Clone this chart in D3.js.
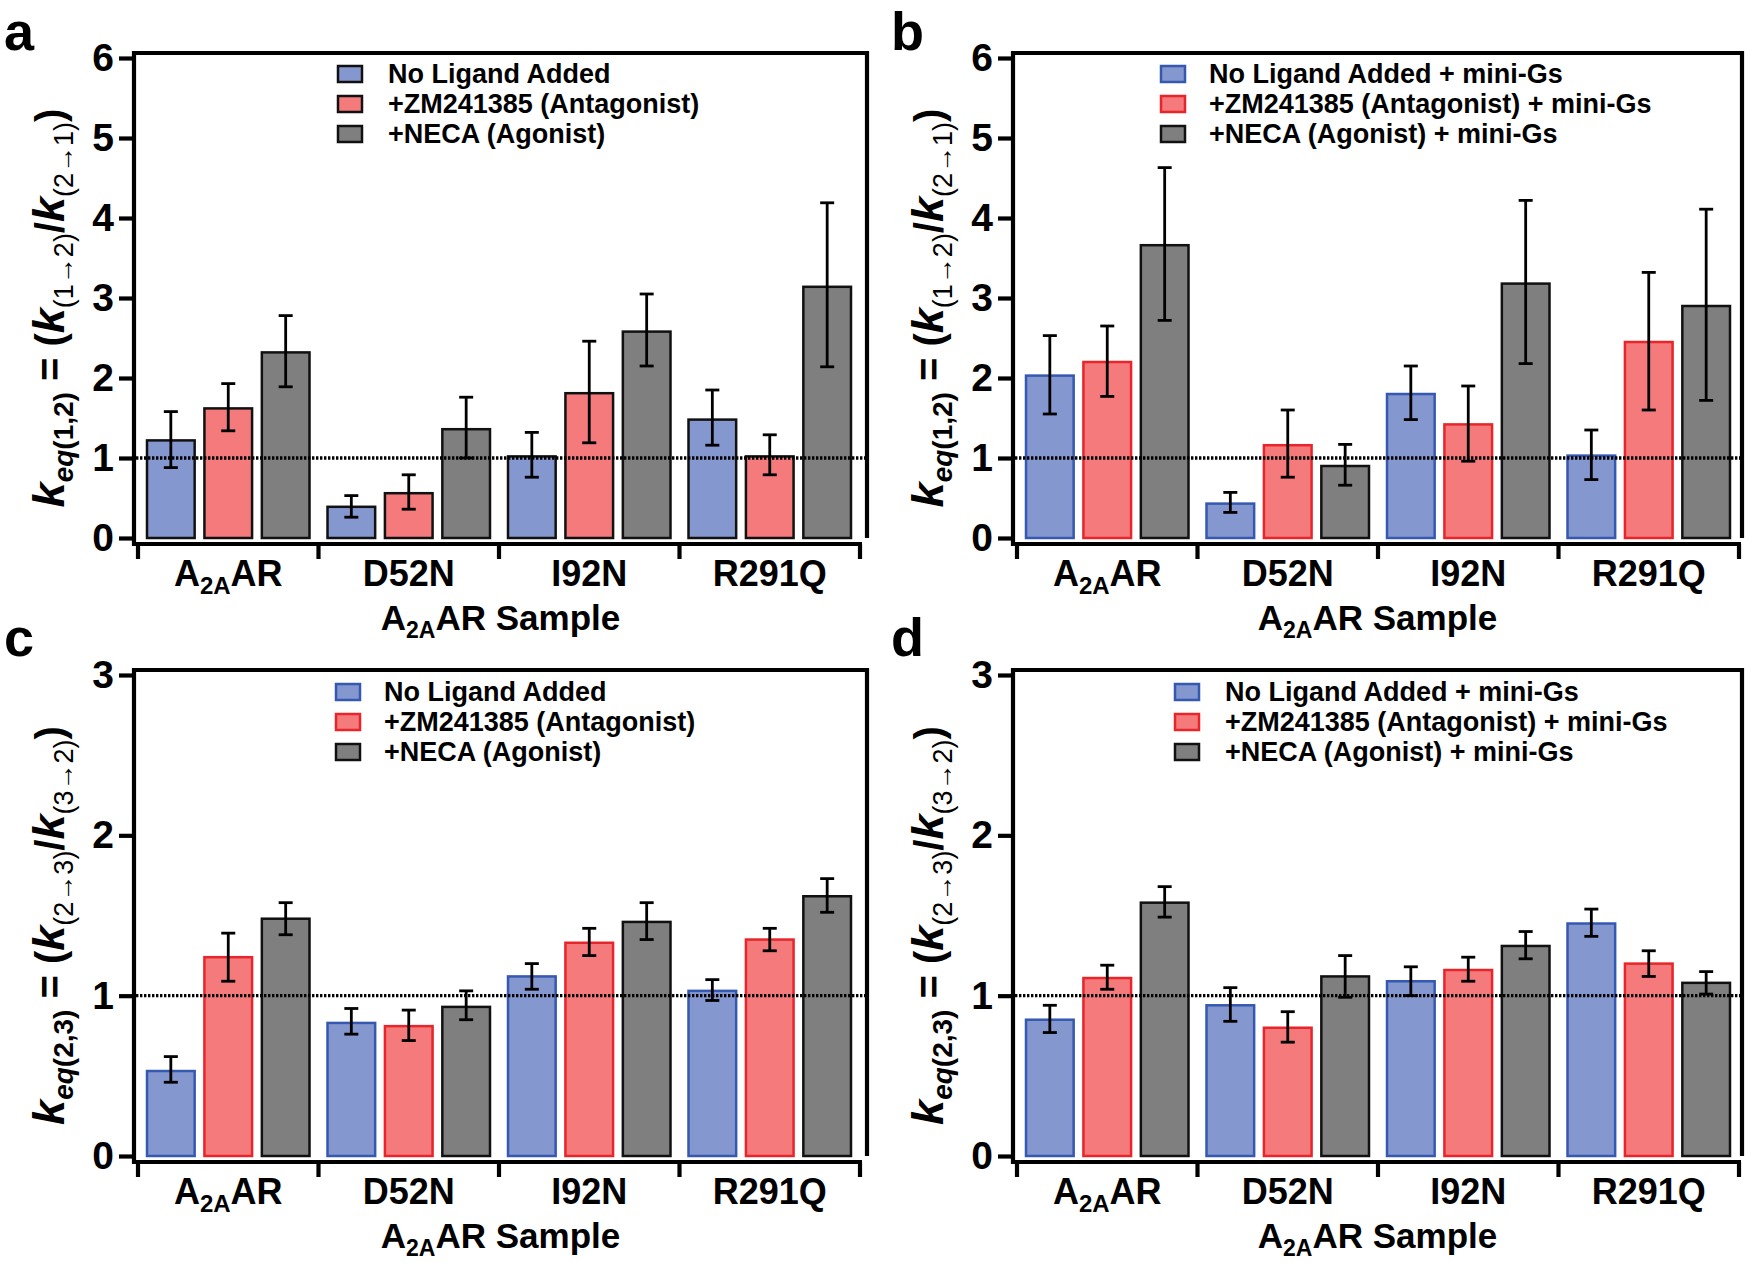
<!DOCTYPE html>
<html>
<head>
<meta charset="utf-8">
<script src="https://cdn.jsdelivr.net/npm/d3@7"></script>
<style>
    body { margin: 0; background: #fff; }
    svg { display: block; font-family: "Liberation Sans", Arial, Helvetica, sans-serif; font-weight: bold; }
</style>
</head>
<body>
<svg id="chart" width="1750" height="1263"></svg>
<script>
// Samples on the x axis
const categories = ['A2AAR', 'D52N', 'I92N', 'R291Q'];

// Legend entries
const seriesApo = ['No Ligand Added', '+ZM241385 (Antagonist)', '+NECA (Agonist)'];
const seriesGs = ['No Ligand Added + mini-Gs', '+ZM241385 (Antagonist) + mini-Gs', '+NECA (Agonist) + mini-Gs'];

const ticks12 = [0, 1, 2, 3, 4, 5, 6];
const ticks23 = [0, 1, 2, 3];

// Panel a: keq(1,2), no mini-Gs  (rows = series, columns = samples)
const aMean = [[1.22, 0.39, 1.02, 1.48], [1.62, 0.56, 1.81, 1.02], [2.32, 1.36, 2.58, 3.14]];
const aLow  = [[0.88, 0.26, 0.76, 1.16], [1.34, 0.36, 1.19, 0.79], [1.89, 1.00, 2.15, 2.14]];
const aHigh = [[1.58, 0.53, 1.32, 1.85], [1.93, 0.79, 2.46, 1.29], [2.78, 1.76, 3.05, 4.19]];

// Panel b: keq(1,2), + mini-Gs
const bMean = [[2.03, 0.43, 1.80, 1.03], [2.20, 1.16, 1.42, 2.45], [3.66, 0.90, 3.18, 2.90]];
const bLow  = [[1.55, 0.32, 1.48, 0.73], [1.77, 0.76, 0.96, 1.60], [2.72, 0.66, 2.18, 1.72]];
const bHigh = [[2.53, 0.57, 2.15, 1.35], [2.65, 1.60, 1.90, 3.32], [4.63, 1.17, 4.22, 4.11]];

// Panel c: keq(2,3), no mini-Gs
const cMean = [[0.53, 0.83, 1.12, 1.03], [1.24, 0.81, 1.33, 1.35], [1.48, 0.93, 1.46, 1.62]];
const cLow  = [[0.46, 0.76, 1.04, 0.97], [1.09, 0.72, 1.25, 1.28], [1.38, 0.85, 1.35, 1.52]];
const cHigh = [[0.62, 0.92, 1.20, 1.10], [1.39, 0.91, 1.42, 1.42], [1.58, 1.03, 1.58, 1.73]];

// Panel d: keq(2,3), + mini-Gs
const dMean = [[0.85, 0.94, 1.09, 1.45], [1.11, 0.80, 1.16, 1.20], [1.58, 1.12, 1.31, 1.08]];
const dLow  = [[0.77, 0.84, 1.00, 1.37], [1.04, 0.71, 1.09, 1.12], [1.49, 0.99, 1.23, 1.01]];
const dHigh = [[0.94, 1.05, 1.18, 1.54], [1.19, 0.90, 1.24, 1.28], [1.68, 1.25, 1.40, 1.15]];

const fills = ['#8597cf', '#f47a7b', '#7f7f7f'];
const edges = ['#3558b0', '#e8252b', '#111111'];

const panels = [
    { letter: 'a', lx: 4, ly: 50, axisX: 134, right: 867, xEnd: 860, yTop: 58, y0: 538,
      ticks: ticks12, mean: aMean, low: aLow, high: aHigh, series: seriesApo, coloured: false,
      legX: 338, legY: 74, textX: 50, pair: ['1,2', '1\u21922', '2\u21921'] },
    { letter: 'b', lx: 891, ly: 50, axisX: 1013, right: 1742, xEnd: 1739, yTop: 58, y0: 538,
      ticks: ticks12, mean: bMean, low: bLow, high: bHigh, series: seriesGs, coloured: true,
      legX: 1161, legY: 74, textX: 48, pair: ['1,2', '1\u21922', '2\u21921'] },
    { letter: 'c', lx: 4, ly: 656, axisX: 134, right: 867, xEnd: 860, yTop: 675, y0: 1156,
      ticks: ticks23, mean: cMean, low: cLow, high: cHigh, series: seriesApo, coloured: true,
      legX: 336, legY: 692, textX: 48, pair: ['2,3', '2\u21923', '3\u21922'] },
    { letter: 'd', lx: 891, ly: 656, axisX: 1013, right: 1742, xEnd: 1739, yTop: 675, y0: 1156,
      ticks: ticks23, mean: dMean, low: dLow, high: dHigh, series: seriesGs, coloured: true,
      legX: 1175, legY: 692, textX: 50, pair: ['2,3', '2\u21923', '3\u21922'] }
];

const svg = d3.select('#chart');

// "A2AAR" gets a subscript 2A
function writeSample(text, label, subSize) {
    const m = /^A2A(.*)$/.exec(label);
    if (!m) {
        text.text(label);
        return;
    }
    text.append('tspan').text('A');
    text.append('tspan').attr('font-size', subSize).attr('dy', subSize * 0.35).text('2A');
    text.append('tspan').attr('dy', -subSize * 0.35).text(m[1]);
}

function drawPanel(p) {
    const g = svg.append('g');
    const y = d3.scaleLinear().domain([0, d3.max(p.ticks)]).range([p.y0, p.yTop]);
    const x0 = d3.scaleBand().domain(categories).range([p.axisX + 4, p.xEnd]);
    const x1 = d3.scaleBand().domain([0, 1, 2]).range([9, x0.bandwidth() - 9]).paddingInner(0.17);
    const axisY = p.y0 + 6;
    const boxTop = p.yTop - 5;

    // panel letter
    svg.append('text')
        .attr('x', p.lx)
        .attr('y', p.ly)
        .attr('font-size', 54)
        .text(p.letter);

    // bars
    p.series.forEach((name, s) => {
        g.append('g')
            .selectAll('rect')
            .data(categories)
            .enter()
            .append('rect')
            .attr('x', d => x0(d) + x1(s))
            .attr('y', (d, i) => y(p.mean[s][i]))
            .attr('width', x1.bandwidth())
            .attr('height', (d, i) => y(0) - y(p.mean[s][i]))
            .attr('fill', fills[s])
            .attr('stroke', p.coloured ? edges[s] : '#111')
            .attr('stroke-width', 2.5);
    });

    // error bars
    p.series.forEach((name, s) => {
        const eb = g.append('g')
            .selectAll('g')
            .data(categories)
            .enter()
            .append('g')
            .attr('stroke', '#000')
            .attr('stroke-width', 2.8);
        const cx = d => x0(d) + x1(s) + x1.bandwidth() / 2;
        eb.append('line')
            .attr('x1', cx).attr('x2', cx)
            .attr('y1', (d, i) => y(p.low[s][i]))
            .attr('y2', (d, i) => y(p.high[s][i]));
        eb.append('line')
            .attr('x1', d => cx(d) - 7).attr('x2', d => cx(d) + 7)
            .attr('y1', (d, i) => y(p.low[s][i]))
            .attr('y2', (d, i) => y(p.low[s][i]));
        eb.append('line')
            .attr('x1', d => cx(d) - 7).attr('x2', d => cx(d) + 7)
            .attr('y1', (d, i) => y(p.high[s][i]))
            .attr('y2', (d, i) => y(p.high[s][i]));
    });

    // dotted reference at 1
    g.append('line')
        .attr('x1', p.axisX + 2)
        .attr('x2', p.right)
        .attr('y1', y(1))
        .attr('y2', y(1))
        .attr('stroke', '#000')
        .attr('stroke-width', 3.4)
        .attr('stroke-dasharray', '2.4,1.6');

    // frame: left axis, top, right
    g.append('path')
        .attr('d', `M${p.axisX},${axisY + 2}V${boxTop}H${p.right}V${p.y0}`)
        .attr('fill', 'none')
        .attr('stroke', '#000')
        .attr('stroke-width', 4.2);

    // y ticks and labels
    const yAxis = g.append('g')
        .attr('transform', `translate(${p.axisX},0)`)
        .call(d3.axisLeft(y).tickValues(p.ticks).tickSize(15).tickPadding(5).tickFormat(d3.format('d')));
    yAxis.select('.domain').remove();
    yAxis.selectAll('line').attr('stroke-width', 4.2).attr('stroke', '#000');
    yAxis.selectAll('text')
        .attr('font-size', 39)
        .attr('font-family', '"Liberation Sans", Arial, sans-serif')
        .attr('font-weight', 'bold')
        .attr('fill', '#000');

    // x axis, detached below zero
    g.append('line')
        .attr('x1', p.axisX - 2).attr('x2', p.xEnd + 2)
        .attr('y1', axisY).attr('y2', axisY)
        .attr('stroke', '#000')
        .attr('stroke-width', 4.2);
    const bounds = categories.map(c => x0(c)).concat([x0.range()[1]]);
    g.append('g')
        .selectAll('line')
        .data(bounds)
        .enter()
        .append('line')
        .attr('x1', d => d).attr('x2', d => d)
        .attr('y1', axisY).attr('y2', axisY + 15)
        .attr('stroke', '#000')
        .attr('stroke-width', 4.2);

    g.append('g')
        .selectAll('text')
        .data(categories)
        .enter()
        .append('text')
        .attr('x', d => x0(d) + x0.bandwidth() / 2)
        .attr('y', p.y0 + 48)
        .attr('text-anchor', 'middle')
        .attr('font-size', 36)
        .each(function (d) { writeSample(d3.select(this), d, 24); });

    // x title
    const xt = g.append('text')
        .attr('x', (p.axisX + p.right) / 2)
        .attr('y', p.y0 + 92)
        .attr('text-anchor', 'middle')
        .attr('font-size', 35);
    writeSample(xt, 'A2AAR Sample', 23);

    // y title: k_eq(i,j) = (k_(i->j)/k_(j->i))
    const yt = g.append('text')
        .attr('transform', `translate(${p.axisX - 70},${(p.y0 + p.yTop) / 2 + 10}) rotate(-90)`)
        .attr('text-anchor', 'middle')
        .attr('font-size', 40);
    yt.append('tspan').attr('font-style', 'italic').attr('font-size', 45).text('k');
    yt.append('tspan').attr('font-style', 'italic').attr('font-size', 28).attr('dy', 9).text('eq');
    yt.append('tspan').attr('font-size', 28).text('(' + p.pair[0] + ')');
    yt.append('tspan').attr('dy', -9).text(' = (');
    yt.append('tspan').attr('font-style', 'italic').attr('font-size', 45).text('k');
    yt.append('tspan').attr('font-size', 27).attr('font-weight', 'normal').attr('dy', 9).text('(' + p.pair[1] + ')');
    yt.append('tspan').attr('dy', -9).text('/');
    yt.append('tspan').attr('font-style', 'italic').attr('font-size', 45).text('k');
    yt.append('tspan').attr('font-size', 27).attr('font-weight', 'normal').attr('dy', 9).text('(' + p.pair[2] + ')');
    yt.append('tspan').attr('dy', -9).text(')');

    // legend
    const leg = g.append('g')
        .selectAll('g')
        .data(p.series)
        .enter()
        .append('g')
        .attr('transform', (d, i) => `translate(${p.legX},${p.legY + i * 30})`);
    leg.append('rect')
        .attr('x', 0).attr('y', -8)
        .attr('width', 24).attr('height', 16)
        .attr('fill', (d, i) => fills[i])
        .attr('stroke', (d, i) => p.coloured ? edges[i] : '#111')
        .attr('stroke-width', 2.5);
    leg.append('text')
        .attr('x', p.textX)
        .attr('y', 9)
        .attr('font-size', 27)
        .text(d => d);
}

panels.forEach(drawPanel);
</script>
</body>
</html>
